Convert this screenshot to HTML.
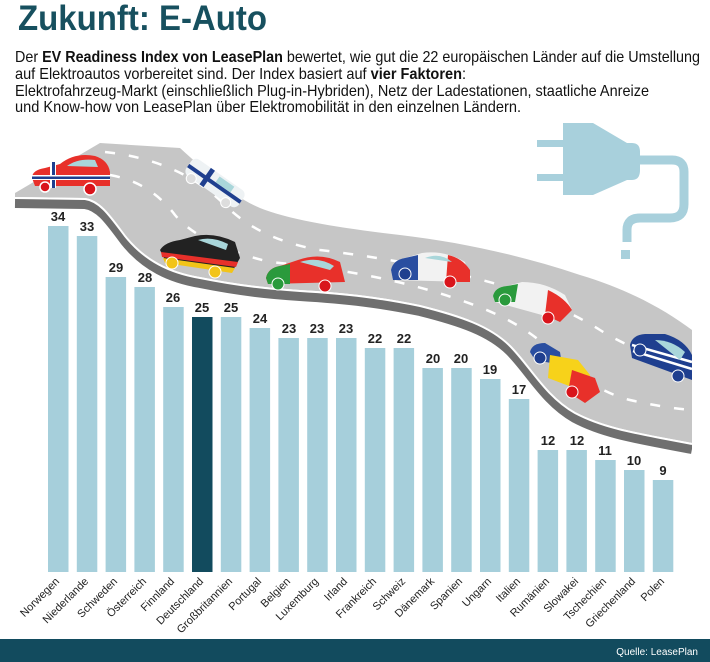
<!DOCTYPE html>
<html><head><meta charset="utf-8"><style>
html,body{margin:0;padding:0;background:#fff;}
svg{display:block;}
</style></head><body>
<svg width="710" height="662" viewBox="0 0 710 662" xmlns="http://www.w3.org/2000/svg" font-family="Liberation Sans, sans-serif">
<rect width="710" height="662" fill="#fff"/>
<text x="18" y="30" font-size="35" font-weight="bold" fill="#17505f" textLength="249" lengthAdjust="spacingAndGlyphs">Zukunft: E-Auto</text>
<g font-size="16" fill="#111">
<text x="15" y="62" textLength="685" lengthAdjust="spacingAndGlyphs">Der <tspan font-weight="bold">EV Readiness Index von LeasePlan</tspan> bewertet, wie gut die 22 europäischen Länder auf die Umstellung</text>
<text x="15" y="79" textLength="451" lengthAdjust="spacingAndGlyphs">auf  Elektroautos vorbereitet sind. Der Index basiert auf <tspan font-weight="bold">vier Faktoren</tspan>:</text>
<text x="15" y="96" textLength="634" lengthAdjust="spacingAndGlyphs">Elektrofahrzeug-Markt (einschließlich Plug-in-Hybriden), Netz der Ladestationen, staatliche Anreize</text>
<text x="15" y="112" textLength="506" lengthAdjust="spacingAndGlyphs">und Know-how von LeasePlan über Elektromobilität in den einzelnen Ländern.</text>
</g>
<!-- plug -->
<g fill="#a8d0dc">
<rect x="537" y="140" width="28" height="7"/>
<rect x="537" y="174" width="28" height="7"/>
<path d="M563 123 L593 123 L627 143 L632 143 Q640 143 640 152 L640 170 Q640 180 632 180 L627 180 L593 195 L563 195 Z"/>
<rect x="621" y="250" width="9" height="9"/>
</g>
<path d="M636 160 L672 160 Q684 160 684 172 L684 204 Q684 218 670 218 L640 218 Q627 218 627 230 L627 242" fill="none" stroke="#a8d0dc" stroke-width="9"/>
<!-- road underside -->
<path transform="translate(0,6)" d="M15 197 L85 198 C100 200 110 215 125 235 C145 260 170 272 200 277 C240 285 270 288 300 290 C350 293 380 297 420 305 C460 315 490 325 510 345 C530 365 545 395 575 412 C605 428 640 433 692 443" fill="none" stroke="#6f6f6f" stroke-width="10"/>
<!-- road surface -->
<path d="M15 193 L100 143 L180 148 C210 175 230 195 260 208 C290 220 340 228 400 235 C460 242 520 255 580 275 C630 290 665 310 692 330 L692 443 C640 433 605 428 575 412 C545 395 530 365 510 345 C490 325 460 315 420 305 C380 297 350 293 300 290 C270 288 240 285 200 277 C170 272 145 260 125 235 C110 215 100 200 85 198 L15 197 Z" fill="#c6c6c6"/>
<path transform="translate(0,1)" d="M15 197 L85 198 C100 200 110 215 125 235 C145 260 170 272 200 277 C240 285 270 288 300 290 C350 293 380 297 420 305 C460 315 490 325 510 345 C530 365 545 395 575 412 C605 428 640 433 692 443" fill="none" stroke="#fff" stroke-width="2"/>
<rect x="692" y="320" width="18" height="150" fill="#fff"/>
<!-- dashes -->
<path d="M105 152 Q180 160 225 205 Q260 240 320 250 Q420 262 500 285 Q560 305 600 330 Q640 355 692 365" fill="none" stroke="#fff" stroke-width="2.5" stroke-dasharray="10 14"/>
<path d="M110 175 Q150 182 175 215 Q200 245 270 262 Q380 272 460 300 Q520 320 550 350 Q590 390 630 400 Q665 408 692 410" fill="none" stroke="#fff" stroke-width="2.5" stroke-dasharray="10 14"/>
<!-- cars -->
<g>
<path d="M32 178 Q32 170 45 168 L60 164 Q75 152 95 156 Q108 160 110 172 L110 186 L35 186 Z" fill="#e8302a"/>
<rect x="50" y="162" width="6" height="26" fill="#fff"/><rect x="52" y="162" width="3" height="26" fill="#1f3f8f"/>
<rect x="32" y="175" width="78" height="5" fill="#fff"/><rect x="32" y="176.5" width="78" height="2.5" fill="#1f3f8f"/>
<path d="M67 166 Q78 158 95 160 L98 167 Z" fill="#a9d6da"/>
<circle cx="45" cy="187" r="5" fill="#d9141b" stroke="#fff" stroke-width="1.5"/><circle cx="90" cy="189" r="6" fill="#d9141b" stroke="#fff" stroke-width="1.5"/>
</g>
<g transform="translate(215,183) rotate(35)">
<rect x="-32" y="-10" width="64" height="20" rx="6" fill="#eef2f4"/>
<rect x="-12" y="-10" width="5" height="20" fill="#1f3f8f"/><rect x="-32" y="-1" width="64" height="4" fill="#1f3f8f"/>
<rect x="0" y="-8" width="18" height="7" fill="#a9d6da"/>
<circle cx="-22" cy="10" r="5" fill="#ddd" stroke="#fff"/><circle cx="20" cy="10" r="5" fill="#ddd" stroke="#fff"/>
</g>
<g>
<path d="M160 250 Q165 242 180 240 L195 236 Q215 232 235 242 L240 258 L232 272 L165 260 Z" fill="#222"/>
<path d="M161 252 L238 262 L236 267 L162 257 Z" fill="#e8302a"/>
<path d="M163 258 L235 268 L232 273 L165 263 Z" fill="#f2c418"/>
<path d="M198 240 Q212 236 228 244 L226 250 Z" fill="#a9d6da"/>
<circle cx="172" cy="263" r="6" fill="#f2c418" stroke="#fff"/><circle cx="215" cy="272" r="6" fill="#f2c418" stroke="#fff"/>
</g>
<g>
<path d="M266 278 Q268 268 280 266 L298 260 Q320 252 340 262 L345 282 L268 284 Z" fill="#e8302a"/>
<path d="M266 278 Q268 268 280 266 L290 264 L290 284 L268 284 Z" fill="#2a9a3c"/>
<path d="M300 262 Q318 256 334 266 L330 270 Z" fill="#a9d6da"/>
<circle cx="278" cy="284" r="6" fill="#2a9a3c" stroke="#fff"/><circle cx="325" cy="286" r="6" fill="#d9141b" stroke="#fff"/>
</g>
<g>
<path d="M391 270 Q393 260 405 258 L422 253 Q445 250 465 262 L470 282 L393 280 Z" fill="#f2f2f2"/>
<path d="M391 270 Q393 260 405 258 L418 255 L418 280 L393 280 Z" fill="#2a4ea0"/>
<path d="M448 255 Q462 258 470 270 L470 282 L446 282 Z" fill="#e8302a"/>
<path d="M425 258 Q440 252 452 262 Z" fill="#a9d6da"/>
<circle cx="405" cy="274" r="6" fill="#1f3f8f" stroke="#fff"/><circle cx="450" cy="282" r="6" fill="#d9141b" stroke="#fff"/>
</g>
<g>
<path d="M493 296 Q495 287 507 286 L522 282 Q545 282 565 295 L572 310 L560 320 L495 302 Z" fill="#f2f2f2"/>
<path d="M493 296 Q495 287 507 286 L518 284 L515 302 L495 302 Z" fill="#2a9a3c"/>
<path d="M548 290 Q565 298 572 310 L560 322 L545 315 Z" fill="#e8302a"/>
<circle cx="505" cy="300" r="6" fill="#2a9a3c" stroke="#fff"/><circle cx="548" cy="318" r="6" fill="#d9141b" stroke="#fff"/>
</g>
<g>
<path d="M530 352 Q532 343 545 343 L560 352 L562 365 L535 360 Z" fill="#2a4ea0"/>
<path d="M550 355 L578 360 L590 375 L585 392 L548 378 Z" fill="#f7d21a"/>
<path d="M572 370 L595 378 L600 392 L585 403 L568 392 Z" fill="#e8302a"/>
<circle cx="540" cy="358" r="6" fill="#1f3f8f" stroke="#fff"/><circle cx="572" cy="392" r="6" fill="#d9141b" stroke="#fff"/>
</g>
<g>
<path d="M630 345 Q632 335 645 334 L665 334 Q685 340 692 355 L692 380 L632 358 Z" fill="#1f3f8f"/>
<path d="M632 345 L692 362 M633 351 L692 369" stroke="#fff" stroke-width="2.5"/>
<path d="M655 340 Q672 340 685 352 L680 360 Z" fill="#a9d6da"/>
<circle cx="640" cy="350" r="6" fill="#1f3f8f" stroke="#fff"/><circle cx="678" cy="376" r="6" fill="#1f3f8f" stroke="#fff"/>
</g>
<!-- bars -->
<g font-size="13" font-weight="bold" fill="#222" text-anchor="middle">
<rect x="48" y="226" width="20.5" height="346" fill="#a6cfdb"/><text x="58" y="221">34</text>
<rect x="76.8" y="236" width="20.5" height="336" fill="#a6cfdb"/><text x="87" y="231">33</text>
<rect x="105.6" y="277" width="20.5" height="295" fill="#a6cfdb"/><text x="116" y="272">29</text>
<rect x="134.4" y="287" width="20.5" height="285" fill="#a6cfdb"/><text x="145" y="282">28</text>
<rect x="163.2" y="307" width="20.5" height="265" fill="#a6cfdb"/><text x="173" y="302">26</text>
<rect x="192" y="317" width="20.5" height="255" fill="#124b5e"/><text x="202" y="312">25</text>
<rect x="220.8" y="317" width="20.5" height="255" fill="#a6cfdb"/><text x="231" y="312">25</text>
<rect x="249.6" y="328" width="20.5" height="244" fill="#a6cfdb"/><text x="260" y="323">24</text>
<rect x="278.4" y="338" width="20.5" height="234" fill="#a6cfdb"/><text x="289" y="333">23</text>
<rect x="307.2" y="338" width="20.5" height="234" fill="#a6cfdb"/><text x="317" y="333">23</text>
<rect x="336" y="338" width="20.5" height="234" fill="#a6cfdb"/><text x="346" y="333">23</text>
<rect x="364.8" y="348" width="20.5" height="224" fill="#a6cfdb"/><text x="375" y="343">22</text>
<rect x="393.6" y="348" width="20.5" height="224" fill="#a6cfdb"/><text x="404" y="343">22</text>
<rect x="422.4" y="368" width="20.5" height="204" fill="#a6cfdb"/><text x="433" y="363">20</text>
<rect x="451.2" y="368" width="20.5" height="204" fill="#a6cfdb"/><text x="461" y="363">20</text>
<rect x="480" y="379" width="20.5" height="193" fill="#a6cfdb"/><text x="490" y="374">19</text>
<rect x="508.8" y="399" width="20.5" height="173" fill="#a6cfdb"/><text x="519" y="394">17</text>
<rect x="537.6" y="450" width="20.5" height="122" fill="#a6cfdb"/><text x="548" y="445">12</text>
<rect x="566.4" y="450" width="20.5" height="122" fill="#a6cfdb"/><text x="577" y="445">12</text>
<rect x="595.2" y="460" width="20.5" height="112" fill="#a6cfdb"/><text x="605" y="455">11</text>
<rect x="624" y="470" width="20.5" height="102" fill="#a6cfdb"/><text x="634" y="465">10</text>
<rect x="652.8" y="480" width="20.5" height="92" fill="#a6cfdb"/><text x="663" y="475">9</text>
</g>
<g font-size="11" fill="#222" text-anchor="end">
<text transform="translate(60,582) rotate(-45)">Norwegen</text>
<text transform="translate(89,582) rotate(-45)">Niederlande</text>
<text transform="translate(118,582) rotate(-45)">Schweden</text>
<text transform="translate(147,582) rotate(-45)">Österreich</text>
<text transform="translate(175,582) rotate(-45)">Finnland</text>
<text transform="translate(204,582) rotate(-45)">Deutschland</text>
<text transform="translate(233,582) rotate(-45)">Großbritannien</text>
<text transform="translate(262,582) rotate(-45)">Portugal</text>
<text transform="translate(291,582) rotate(-45)">Belgien</text>
<text transform="translate(319,582) rotate(-45)">Luxemburg</text>
<text transform="translate(348,582) rotate(-45)">Irland</text>
<text transform="translate(377,582) rotate(-45)">Frankreich</text>
<text transform="translate(406,582) rotate(-45)">Schweiz</text>
<text transform="translate(435,582) rotate(-45)">Dänemark</text>
<text transform="translate(463,582) rotate(-45)">Spanien</text>
<text transform="translate(492,582) rotate(-45)">Ungarn</text>
<text transform="translate(521,582) rotate(-45)">Italien</text>
<text transform="translate(550,582) rotate(-45)">Rumänien</text>
<text transform="translate(579,582) rotate(-45)">Slowakei</text>
<text transform="translate(607,582) rotate(-45)">Tschechien</text>
<text transform="translate(636,582) rotate(-45)">Griechenland</text>
<text transform="translate(665,582) rotate(-45)">Polen</text>
</g>
<rect x="0" y="639" width="710" height="23" fill="#124b5e"/>
<text x="698" y="655" font-size="10" fill="#fff" text-anchor="end">Quelle: LeasePlan</text>
</svg>
</body></html>
